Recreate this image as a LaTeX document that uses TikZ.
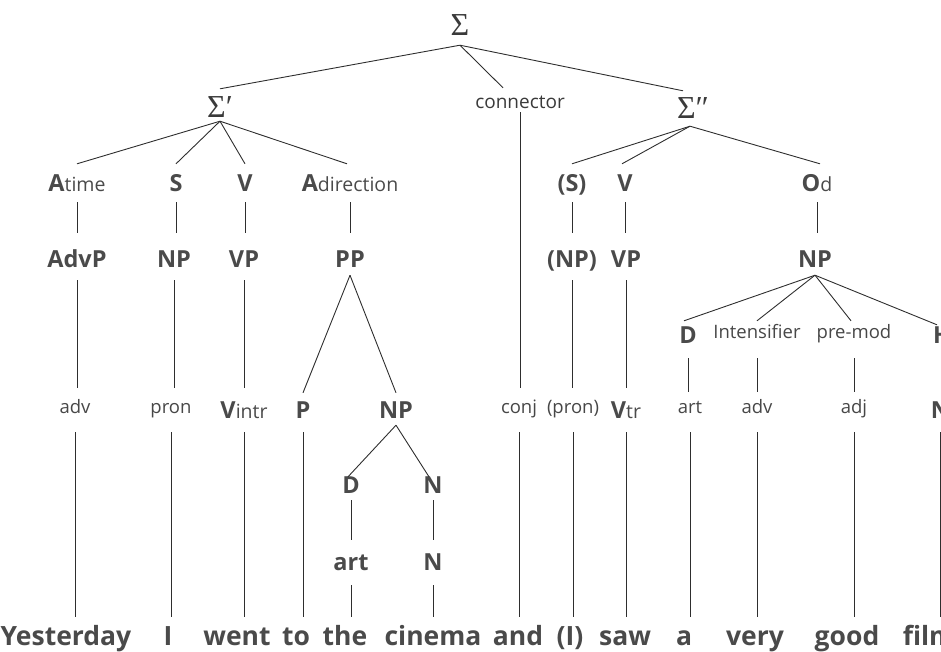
\documentclass[tikz,border=0pt]{standalone}
\usepackage{fontspec}
\setmainfont{Open Sans}
\newfontfamily\sigfont{Liberation Serif}
\definecolor{ink}{HTML}{4A4A4A}
\definecolor{inklight}{HTML}{474747}
\definecolor{sigink}{HTML}{3A3A3A}
\newcommand\bigsz{\bfseries\fontsize{23.5}{23.5}\selectfont}
\newcommand\smallsz{\mdseries\fontsize{18.5}{18.5}\selectfont}
\newcommand\subsz{\mdseries\fontsize{19.5}{19.5}\selectfont}
\newcommand\wordsz{\bfseries\fontsize{26.5}{26.5}\selectfont}
\newcommand\sigsz{\sigfont\fontsize{32}{32}\selectfont}
\tikzset{
  lab/.style 2 args={anchor=base, inner sep=0pt, text height=#1, text depth=#2},
  big/.style={font=\bigsz, text=ink},
  sml/.style={font=\smallsz, text=inklight},
  sig/.style={font=\sigsz, text=sigink},
  fn/.style={big, lab={27pt}{11pt}},
  cat/.style={big, lab={34pt}{13pt}},
  wc/.style={sml, lab={25pt}{19pt}},
  wcb/.style={big, lab={30pt}{14pt}},
  wrd/.style={font=\wordsz, text=ink, lab={28pt}{6pt}},
  branch/.style={draw=black!82, line width=0.9pt},
}
% vertical stem from the foot of one node down to the top of the next
\newcommand\drawstem[2]{\draw[branch] (#1.south) -- (#1.south |- #2.north);}
\begin{document}
\begin{tikzpicture}[x=1pt,y=-1pt]
\useasboundingbox (0,0) rectangle (941,651);
\clip (0,0) rectangle (941,651);

% sentence level
\node[sig, lab={12pt}{10pt}] (s0) at (460,35) {Σ};
\node[sig, lab={28pt}{4pt}] (s1) at (220,117) {Σ′};
\node[sml, text=sigink, font=\mdseries\fontsize{19}{19}\selectfont, lab={20pt}{4pt}] (conn) at (520,108) {connector};
\node[sig, lab={27pt}{8pt}] (s2) at (693,118) {Σ″};

% clause functions
\node[fn] (atime) at (77,191) {A{\subsz time}};
\node[fn] (subj1) at (176,191) {S};
\node[fn] (verb1) at (245,191) {V};
\node[fn] (adir) at (350,191) {A{\subsz direction}};
\node[fn] (subj2) at (572,191) {(S)};
\node[fn] (verb2) at (625,191) {V};
\node[fn] (objd) at (817,191) {O{\subsz d}};

% phrase categories
\node[cat] (advp) at (77,267) {AdvP};
\node[cat] (np1) at (174,267) {NP};
\node[cat] (vp1) at (244,267) {VP};
\node[big, lab={34pt}{8pt}] (pp) at (350,267) {PP};
\node[cat] (np2) at (572,267) {(NP)};
\node[cat] (vp2) at (626,267) {VP};
\node[big, lab={34pt}{8pt}] (np3) at (815,267) {NP};

% noun phrase inside the object
\node[big, lab={22pt}{15pt}] (det2) at (688,343) {D};
\node[sml, lab={17pt}{20pt}] (inten) at (757,338) {Intensifier};
\node[sml, lab={17pt}{20pt}] (premod) at (854,338) {pre-mod};
\node[big, lab={18pt}{15pt}] (head) at (942,343) {H};

% word classes
\node[wc] (adv1) at (75,413) {adv};
\node[wc] (pron1) at (171,413) {pron};
\node[wcb] (vintr) at (244,418) {V{\subsz intr}};
\node[big, lab={25pt}{14pt}] (prep) at (303,418) {P};
\node[big, lab={25pt}{7pt}] (np4) at (396,418) {NP};
\node[wc] (conj) at (519,413) {conj};
\node[wc] (pron2) at (573,413) {(pron)};
\node[wcb] (vtr) at (626,418) {V{\subsz tr}};
\node[sml, lab={21pt}{19pt}] (art2) at (690,413) {art};
\node[sml, lab={21pt}{19pt}] (adv2) at (757,413) {adv};
\node[sml, lab={21pt}{19pt}] (adj) at (854,413) {adj};
\node[wcb] (nhead) at (940.5,418) {N};

% noun phrase inside the prepositional phrase
\node[big, lab={16pt}{7pt}] (det1) at (351,493) {D};
\node[big, lab={16pt}{7pt}] (noun1) at (433,493) {N};
\node[big, lab={30pt}{15pt}] (art1) at (351,570) {art};
\node[big, lab={30pt}{15pt}] (noun2) at (433,570) {N};

% the sentence
\node[wrd] (w1) at (66,645) {Yesterday};
\node[wrd] (w2) at (168,645) {I};
\node[wrd] (w3) at (237,645) {went};
\node[wrd] (w4) at (296,645) {to};
\node[wrd] (w5) at (345,645) {the};
\node[wrd] (w6) at (433,645) {cinema};
\node[wrd] (w7) at (518,645) {and};
\node[wrd] (w8) at (570,645) {(I)};
\node[wrd] (w9) at (625,645) {saw};
\node[wrd] (w10) at (684,645) {a};
\node[wrd] (w11) at (755,645) {very};
\node[wrd] (w12) at (847,645) {good};
\node[wrd] (w13) at (929,645) {film};

% fan-out branches
\draw[branch] (s0.south) -- (s1.north);
\draw[branch] (s0.south) -- ([xshift=-17pt]conn.north);
\draw[branch] (s0.south) -- ([xshift=-10pt]s2.north);
\draw[branch] (s1.south) -- (atime.north);
\draw[branch] (s1.south) -- (subj1.north);
\draw[branch] (s1.south) -- (verb1.north);
\draw[branch] (s1.south) -- ([xshift=-3pt]adir.north);
\draw[branch] ([xshift=-3pt]s2.south) -- (subj2.north);
\draw[branch] ([xshift=-3pt]s2.south) -- ([xshift=-3pt]verb2.north);
\draw[branch] ([xshift=-3pt]s2.south) -- ([xshift=3pt]objd.north);
\draw[branch] (pp.south) -- (prep.north);
\draw[branch] (pp.south) -- (np4.north);
\draw[branch] (np4.south) -- ([xshift=-3pt]det1.north);
\draw[branch] (np4.south) -- ([xshift=-4pt]noun1.north);
\draw[branch] (np3.south) -- ([xshift=-4pt]det2.north);
\draw[branch] (np3.south) -- (inten.north);
\draw[branch] (np3.south) -- ([xshift=-3pt]premod.north);
\draw[branch] (np3.south) -- ([xshift=-5pt]head.north);

% vertical stems
\drawstem{atime}{advp} \drawstem{advp}{adv1} \drawstem{adv1}{w1}
\drawstem{subj1}{np1} \drawstem{np1}{pron1} \drawstem{pron1}{w2}
\drawstem{verb1}{vp1} \drawstem{vp1}{vintr} \drawstem{vintr}{w3}
\drawstem{adir}{pp}
\drawstem{prep}{w4}
\drawstem{det1}{art1} \drawstem{art1}{w5}
\drawstem{noun1}{noun2} \drawstem{noun2}{w6}
\drawstem{conn}{conj} \drawstem{conj}{w7}
\drawstem{subj2}{np2} \drawstem{np2}{pron2} \drawstem{pron2}{w8}
\drawstem{verb2}{vp2} \drawstem{vp2}{vtr} \drawstem{vtr}{w9}
\drawstem{objd}{np3}
\drawstem{det2}{art2} \drawstem{art2}{w10}
\drawstem{inten}{adv2} \drawstem{adv2}{w11}
\drawstem{premod}{adj} \drawstem{adj}{w12}
\drawstem{head}{nhead} \drawstem{nhead}{w13}
\end{tikzpicture}
\end{document}
